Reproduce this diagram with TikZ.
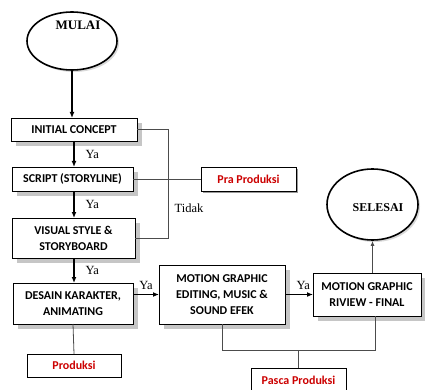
\documentclass[tikz,border=0pt]{standalone}
\usepackage{fontspec}
\setmainfont{Liberation Serif}
\newfontfamily\calibri{Carlito}
\usetikzlibrary{positioning,shapes.geometric,shadows,arrows.meta}

\begin{document}
\begin{tikzpicture}[x=1pt, y=-1pt,
BoxStyle/.style={draw, line width=0.9pt, fill=white, inner sep=0pt,
                outer sep=0pt, align=center,
                font=\calibri\bfseries\fontsize{12}{16}\selectfont,
                drop shadow={shadow xshift=5pt, shadow yshift=-5pt,
                             fill=gray!45, opacity=1}},
TagStyle/.style={draw, line width=0.9pt, fill=white, inner sep=0pt,
                outer sep=0pt, text=red!80!black,
                font=\calibri\bfseries\fontsize{12}{14}\selectfont},
EllStyle/.style={ellipse, draw, line width=1.6pt, fill=white, inner sep=0pt,
                drop shadow={shadow xshift=2pt, shadow yshift=-2pt,
                             fill=gray!30, opacity=1}},
EllText/.style={font=\bfseries\fontsize{13}{15}\selectfont, inner sep=0pt},
YaStyle/.style={font=\fontsize{12.5}{14}\selectfont, inner sep=1pt},
FlowStyle/.style={-{Latex[length=6pt, width=5pt]}, line width=1.3pt},
LinkStyle/.style={draw=black!70, line width=0.8pt},
]
\useasboundingbox (0,0) rectangle (425,390);

% start and end
\node [EllStyle, minimum width=90pt, minimum height=58pt] (mulai) at (72,41) {};
\node [EllText] (mulaiText) at (78,25) {MULAI};
\node [EllStyle, minimum width=91pt, minimum height=71pt] (selesai) at (372.5,204.5) {};
\node [EllText, font=\bfseries\fontsize{12}{14}\selectfont] (selesaiText) at (378,208) {SELESAI};

% process boxes
\node [BoxStyle, minimum width=126pt, minimum height=23pt] (initial) at (74,129.5) {INITIAL CONCEPT};
\node [BoxStyle, minimum width=121pt, minimum height=24pt] (script) at (72.5,179) {SCRIPT (STORYLINE)};
\node [BoxStyle, minimum width=123pt, minimum height=40pt] (visual) at (73.5,238) {VISUAL STYLE \&\\ STORYBOARD};
\node [BoxStyle, minimum width=120pt, minimum height=41pt] (desain) at (73,303.5) {DESAIN KARAKTER,\\ ANIMATING};
\node [BoxStyle, minimum width=126pt, minimum height=59pt] (motion1) at (222,294.5) {MOTION GRAPHIC\\ EDITING, MUSIC \&\\ SOUND EFEK};
\node [BoxStyle, minimum width=108pt, minimum height=43pt] (motion2) at (367,294.5) {MOTION GRAPHIC\\ RIVIEW - FINAL};

% stage tags
\node [TagStyle, minimum width=95pt, minimum height=24pt,
       drop shadow={shadow xshift=2pt, shadow yshift=-2pt, fill=gray!80, opacity=1}] (pra) at (248.5,179) {Pra Produksi};
\node [TagStyle, minimum width=94pt, minimum height=23pt] (produksi) at (74,365.5) {Produksi};
\node [TagStyle, minimum width=95pt, minimum height=24pt] (pasca) at (298.5,380) {Pasca Produksi};

% main flow
\draw [FlowStyle] (mulai.south) -- (mulai.south |- initial.north);
\draw [FlowStyle] (initial.south) -- (initial.south |- script.north)
      node [YaStyle, midway, right=10pt] {Ya};
\draw [FlowStyle] (initial.south |- script.south) -- (initial.south |- visual.north)
      node [YaStyle, midway, right=10pt] {Ya};
\draw [FlowStyle] (initial.south |- visual.south) -- (initial.south |- desain.north)
      node [YaStyle, midway, right=10pt] {Ya};
\draw [FlowStyle] (desain.east |- motion1.west) -- (motion1.west)
      node [YaStyle, midway, above=3pt] {Ya};
\draw [FlowStyle] (motion1.east) -- (motion2.west)
      node [YaStyle, pos=0.65, above=3pt] {Ya};
\draw [LinkStyle, -{Latex[length=5pt, width=4pt]}, line width=1pt]
      (selesai.south |- motion2.north) -- (selesai.south);

% side links
\draw [LinkStyle] (initial.east) -- ++(31,0) coordinate (tidakTop) |- (visual.east);
\node [YaStyle] (tidak) at (189,208) {Tidak};
\draw [LinkStyle] (script.east) -- (pra.west);
\draw [LinkStyle] (desain.south) -- (produksi.north);
\coordinate (mergeR) at (375,350);
\draw [LinkStyle] (motion1.south) |- (mergeR) -- (mergeR |- motion2.south);
\draw [LinkStyle] (pasca.north |- mergeR) -- (pasca.north);
\end{tikzpicture}
\end{document}
